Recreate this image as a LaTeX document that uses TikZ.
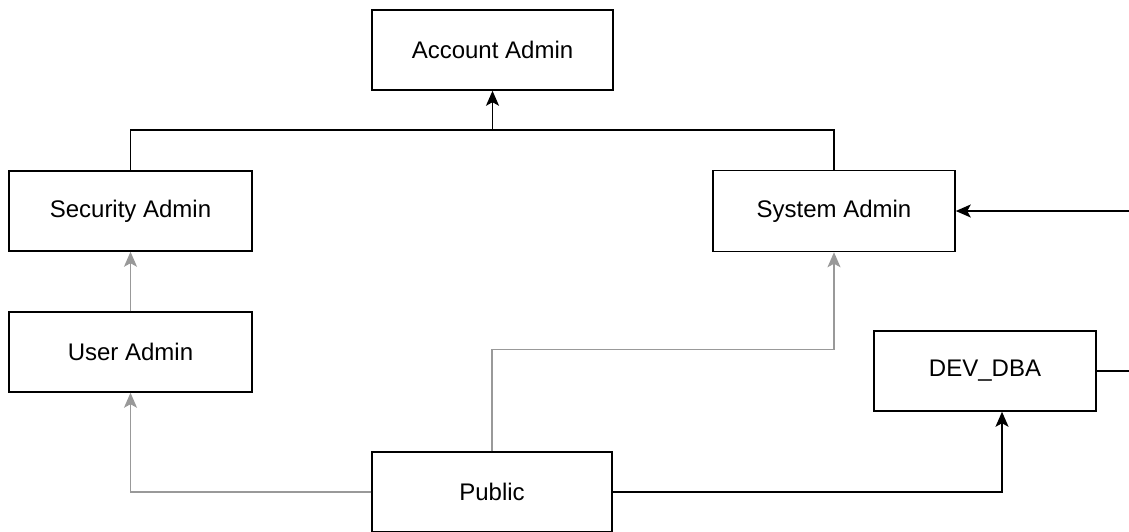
\documentclass[tikz,border=0pt]{standalone}
\usepackage{fontspec}
\setmainfont{Liberation Sans}
\usetikzlibrary{arrows.meta}
\definecolor{linkgray}{HTML}{999999}
\tikzset{
  rolebox/.style={draw=black, line width=1.5pt, fill=white, minimum width=241pt,
    minimum height=80pt, inner sep=0pt, font=\fontsize{24}{28}\selectfont},
  strong/.style={draw=black, line width=1.5pt},
  weak/.style={draw=linkgray, line width=1.3pt},
  headed/.style={-{Stealth[length=15pt, width=13pt, inset=3.5pt]}}
}
\begin{document}
\begin{tikzpicture}[x=1pt, y=-1pt]
  \useasboundingbox (0,0) rectangle (1129,531);
  % role boxes
  \node[rolebox] (acc) at (492.5,50) {Account Admin};
  \node[rolebox, minimum width=243pt] (sec) at (130.5,211) {Security Admin};
  \node[rolebox, minimum width=242pt, minimum height=81pt] (sys) at (834,211) {System Admin};
  \node[rolebox, minimum width=243pt] (usr) at (130.5,352) {User Admin};
  \node[rolebox, minimum width=222pt] (dev) at (985,371) {DEV\_DBA};
  \node[rolebox, minimum width=240pt] (pub) at (492,492) {Public};
  % junction and free ends
  \coordinate (j) at (492.5,130);
  \coordinate (ein) at (1129,211);
  \coordinate (eout) at (1129,371);
  % hierarchy links
  \draw[strong] (sys.north) |- (j);
  \draw[strong, headed] (sec.north) |- (j) -- (acc.south);
  \draw[weak, headed] (usr.north) -- (sec.south);
  \draw[weak, headed] (pub.west) -| (usr.south);
  \draw[weak, headed] (pub.north) -- ++(0,-102) -| (sys.south);
  \draw[strong, headed] (pub.east) -| ([xshift=17pt]dev.south);
  \draw[strong, headed] (ein) -- (sys.east);
  \draw[strong] (dev.east) -- (eout);
\end{tikzpicture}
\end{document}
